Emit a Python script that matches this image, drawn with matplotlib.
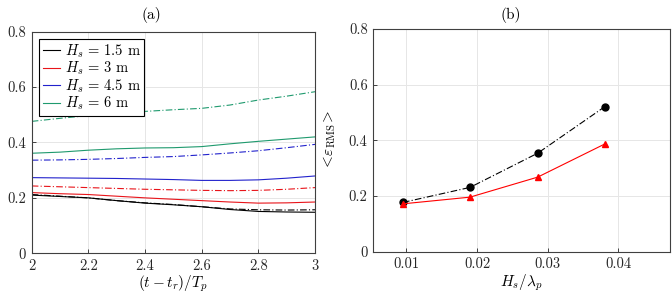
#!/usr/bin/env python3
"""Two-panel figure: eps_RMS vs time (a) and mean eps_RMS vs steepness (b)."""

import matplotlib
matplotlib.use('Agg')
import matplotlib.pyplot as plt

plt.rcParams['font.family'] = 'serif'
plt.rcParams['font.serif'] = ['cmr10', 'DejaVu Serif']
plt.rcParams['mathtext.fontset'] = 'cm'
plt.rcParams['axes.formatter.use_mathtext'] = True

# --- data, panel (a) ---
t = [2.0, 2.1, 2.2, 2.3, 2.4, 2.5, 2.6, 2.7, 2.8, 2.9, 3.0]
hs_labels = [r'$H_s\,=\,1.5$ m', r'$H_s\,=\,3$ m', r'$H_s\,=\,4.5$ m', r'$H_s\,=\,6$ m']
colors = ['#000000', '#e8141a', '#2222cc', '#1f9a6e']

solid_15 = [0.210, 0.205, 0.200, 0.190, 0.181, 0.175, 0.168, 0.158, 0.151, 0.149, 0.148]
solid_3 = [0.219, 0.215, 0.212, 0.206, 0.200, 0.195, 0.190, 0.185, 0.181, 0.182, 0.185]
solid_45 = [0.273, 0.272, 0.271, 0.270, 0.268, 0.266, 0.263, 0.263, 0.265, 0.271, 0.279]
solid_6 = [0.361, 0.365, 0.372, 0.377, 0.380, 0.381, 0.385, 0.395, 0.404, 0.412, 0.420]

dash_15 = [0.212, 0.206, 0.200, 0.190, 0.182, 0.176, 0.168, 0.160, 0.157, 0.156, 0.157]
dash_3 = [0.243, 0.240, 0.237, 0.234, 0.231, 0.229, 0.227, 0.226, 0.227, 0.231, 0.237]
dash_45 = [0.336, 0.337, 0.339, 0.342, 0.346, 0.349, 0.355, 0.362, 0.370, 0.381, 0.393]
dash_6 = [0.476, 0.487, 0.497, 0.505, 0.512, 0.518, 0.523, 0.535, 0.553, 0.567, 0.583]

# --- data, panel (b) ---
steep = [0.0095, 0.0190, 0.0286, 0.0381]
mean_dash = [0.177, 0.231, 0.354, 0.521]
mean_solid = [0.172, 0.196, 0.268, 0.387]

fig = plt.figure(figsize=(6.72, 2.96), dpi=100)
ax1 = fig.add_axes([0.0472, 0.1443, 0.4216, 0.7490])
ax2 = fig.add_axes([0.5555, 0.1497, 0.4410, 0.7520])

lw = 0.8
dashdot = (0, (6, 2, 1, 2))
solids = [solid_15, solid_3, solid_45, solid_6]
dashes = [dash_15, dash_3, dash_45, dash_6]
for s, d, c, lab in zip(solids, dashes, colors, hs_labels):
    ax1.plot(t, s, color=c, lw=lw, label=lab)
    ax1.plot(t, d, color=c, lw=lw, linestyle=dashdot)

ax1.set_xlim(2, 3)
ax1.set_ylim(0, 0.8)
ax1.set_xticks([2, 2.2, 2.4, 2.6, 2.8, 3])
ax1.set_xticklabels(['2', '2.2', '2.4', '2.6', '2.8', '3'])
ax1.set_yticks([0, 0.2, 0.4, 0.6, 0.8])
ax1.set_yticklabels(['0', '0.2', '0.4', '0.6', '0.8'])
ax1.set_xlabel(r'$(t-t_r)/T_p$', fontsize=11, labelpad=1)
ax1.set_ylabel(r'$\varepsilon_{\rm RMS}$', fontsize=11)
ax1.yaxis.set_label_coords(-0.118, 0.5)
leg = ax1.legend(loc='upper left', fontsize=10.5, handlelength=1.2, handletextpad=0.3,
                 labelspacing=0.0, borderpad=0.25, borderaxespad=0.5, fancybox=False,
                 edgecolor='black', framealpha=1)
leg.get_frame().set_linewidth(0.8)

ax2.plot(steep, mean_dash, color='black', lw=lw, linestyle=dashdot,
         marker='o', markersize=5)
ax2.plot(steep, mean_solid, color='#ff0000', lw=lw, marker='^', markersize=5)
ax2.set_xlim(0.0053, 0.0473)
ax2.set_ylim(0, 0.8)
ax2.set_xticks([0.01, 0.02, 0.03, 0.04])
ax2.set_xticklabels(['0.01', '0.02', '0.03', '0.04'])
ax2.set_yticks([0, 0.2, 0.4, 0.6, 0.8])
ax2.set_yticklabels(['0', '0.2', '0.4', '0.6', '0.8'])
ax2.set_xlabel(r'$H_s/\lambda_p$', fontsize=11, labelpad=1)
ax2.set_ylabel(r'$<\!\varepsilon_{\rm RMS}\!>$', fontsize=11)
ax2.yaxis.set_label_coords(-0.118, 0.5)

for ax in (ax1, ax2):
    ax.grid(True, color='#e6e6e6', lw=0.7)
    ax.set_axisbelow(True)
    ax.tick_params(direction='in', length=3, width=0.6, labelsize=10.5,
                   colors='#262626', top=False, right=False, pad=4)
    for sp in ax.spines.values():
        sp.set_color('#404040')
        sp.set_linewidth(0.8)

fig.text(151 / 672, 1 - 15 / 296, '(a)', ha='center', va='center', fontsize=11)
fig.text(511 / 672, 1 - 15 / 296, '(b)', ha='center', va='center', fontsize=11)

fig.savefig('out.png', dpi=100)
